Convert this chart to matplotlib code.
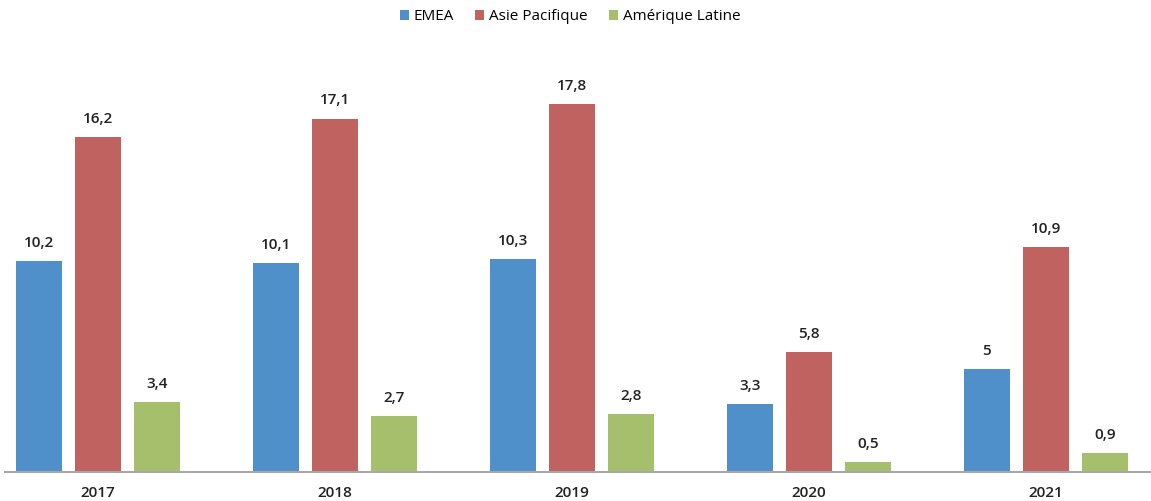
import numpy as np
import matplotlib.pyplot as plt
from matplotlib.patches import Patch

years = ["2017", "2018", "2019", "2020", "2021"]
emea = [10.2, 10.1, 10.3, 3.3, 5]
asie = [16.2, 17.1, 17.8, 5.8, 10.9]
amerique = [3.4, 2.7, 2.8, 0.5, 0.9]
series_names = ["EMEA", "Asie Pacifique", "Amérique Latine"]
colors = ["#4f8fca", "#c0625f", "#a6bf6c"]

plt.rcParams['font.family'] = ['Open Sans', 'DejaVu Sans']

W, H = 1151, 501
fig = plt.figure(figsize=(W / 100, H / 100), dpi=100)
# axes spans pixel x 5..1151, y 60..472
ax = fig.add_axes([5 / W, (H - 472) / H, (W - 5) / W, (472 - 60) / H])

x = np.arange(len(years))
width = 0.198
offset = 0.249

for i, (vals, col) in enumerate(zip([emea, asie, amerique], colors)):
    pos = x + (i - 1) * offset
    ax.bar(pos, vals, width=width, color=col, zorder=2)
    for p, v in zip(pos, vals):
        txt = f"{v:g}".replace(".", ",")
        ax.annotate(txt, (p, v), xytext=(0, 8), textcoords="offset points",
                    ha="center", va="bottom", fontsize=11, fontweight="semibold",
                    color="#222222")

ax.set_xlim(-(98 - 5) / 237, (1151 - 98) / 237)
ax.set_ylim(0, 412 / 20.67)

for s in ["top", "right", "left"]:
    ax.spines[s].set_visible(False)
ax.spines["bottom"].set_color("#a8a8a8")
ax.spines["bottom"].set_linewidth(1.5)
ax.set_yticks([])
ax.set_xticks(x)
ax.set_xticklabels(years, fontsize=11, fontweight="semibold", color="#222222")
ax.tick_params(axis="x", length=0, pad=10)

handles = [Patch(facecolor=c, label=n) for c, n in zip(colors, series_names)]
fig.legend(handles=handles, loc="center", bbox_to_anchor=(570 / W, 1 - 17 / H),
           ncol=3, frameon=False, handlelength=0.6, handleheight=0.6,
           handletextpad=0.3, columnspacing=1.4,
           prop={"size": 11, "weight": "medium"})

fig.savefig("out.png", dpi=100)
